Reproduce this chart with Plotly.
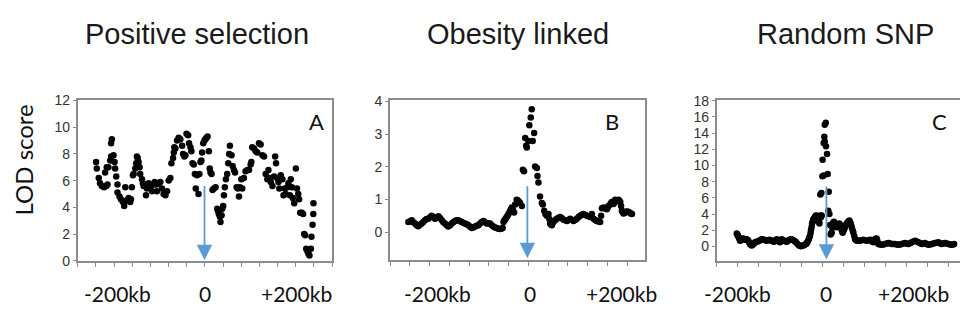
import plotly.graph_objects as go

# ---------------- data (x in marker-tick units, 0 = left edge; y = LOD score) -------------
a_x = [1.01, 1.05, 1.16, 1.23, 1.33, 1.45, 1.57, 1.64, 1.51, 1.60, 1.69, 1.79, 1.84, 1.84, 1.88,
       1.97, 2.03, 2.06, 2.12, 2.19, 2.19, 2.30, 2.38, 2.49, 2.56, 2.67, 2.80, 2.62, 2.98, 2.93,
       2.89, 3.04, 3.08, 3.17, 3.22, 3.26, 3.30, 3.35, 3.41, 3.44, 3.54, 3.59, 3.63, 3.72, 3.76,
       3.81, 3.91, 4.00, 4.09, 4.18, 4.24, 4.33, 4.36, 4.46, 4.55, 4.64, 4.73, 4.83, 4.92, 5.01,
       5.10, 5.16, 5.25, 5.29, 5.32, 5.38, 5.47, 5.56, 5.65, 5.75, 5.80, 5.87, 5.93, 5.99, 6.08,
       6.13, 6.21, 6.26, 6.32, 6.39, 6.45, 6.50, 6.57, 6.65, 6.70, 6.76, 6.81, 6.85, 6.91, 6.98,
       7.03, 7.09, 7.15, 7.22, 7.27, 7.31, 7.37, 7.42, 7.50, 7.59, 7.68, 7.73, 7.77, 7.83, 7.86,
       7.92, 7.96, 8.01, 8.05, 8.10, 8.16, 8.23, 8.29, 8.34, 8.38, 8.47, 8.53, 8.60, 8.66, 8.75,
       8.82, 8.88, 8.93, 9.01, 9.06, 9.15, 9.24, 9.34, 9.43, 9.52, 9.56, 9.61, 9.71, 9.80, 9.89,
       9.98, 10.07, 10.17, 10.26, 10.35, 10.44, 10.50, 10.55, 10.63, 10.72, 10.81, 10.87, 10.92,
       10.99, 11.05, 11.10, 11.18, 11.27, 11.33, 11.40, 11.45, 11.55, 11.60, 11.68, 11.73, 11.79,
       11.84, 11.92, 12.01, 12.07, 12.14, 12.19, 12.25, 12.34, 12.41, 12.47, 12.52, 12.58, 12.65,
       12.71, 12.76, 12.84, 12.87, 12.93, 12.97, 12.98]
a_y = [7.4, 6.9, 6.2, 5.8, 5.6, 5.5, 5.6, 5.7, 6.6, 7.0, 7.0, 7.5, 7.8, 8.8, 9.1,
       7.9, 7.4, 6.9, 6.3, 5.7, 5.1, 4.8, 4.6, 4.4, 4.1, 4.5, 4.7, 5.5, 5.5, 4.6,
       4.4, 6.4, 6.5, 6.9, 7.3, 7.8, 7.7, 7.4, 7.0, 6.5, 6.1, 5.8, 5.6, 5.6, 4.9,
       5.4, 5.8, 5.5, 5.2, 5.7, 5.9, 5.7, 5.2, 5.8, 5.9, 5.4, 5.0, 4.9, 5.2, 6.0,
       6.2, 7.3, 7.7, 8.1, 8.5, 8.4, 9.0, 9.2, 9.1, 8.6, 8.0, 7.8, 7.9, 9.5, 9.4,
       8.8, 8.5, 8.2, 7.3, 7.2, 6.5, 5.4, 6.4, 5.0, 6.5, 7.4, 7.5, 8.1, 8.8, 9.0,
       9.1, 9.2, 9.3, 8.2, 6.9, 6.6, 6.5, 5.3, 5.4, 5.5, 3.9, 3.7, 3.5, 3.3, 2.9,
       3.4, 3.9, 4.1, 4.9, 5.5, 6.1, 6.5, 7.3, 8.0, 8.6, 7.9, 7.1, 6.8, 6.6, 5.5,
       5.4, 4.8, 5.5, 6.1, 5.4, 6.2, 6.7, 6.8, 6.8, 7.2, 7.4, 8.5, 8.4, 8.2, 8.1,
       8.8, 8.7, 7.9, 7.8, 6.5, 6.1, 6.8, 6.2, 5.9, 5.6, 6.3, 7.8, 7.3,
       6.2, 5.9, 5.4, 6.4, 6.1, 4.9, 5.4, 5.0, 5.5, 5.8, 4.9, 6.1, 5.5,
       4.7, 4.3, 6.9, 5.4, 5.0, 4.6, 3.6, 3.6, 3.5, 2.0, 1.9, 0.9, 0.7,
       0.5, 0.4, 0.9, 1.8, 2.7, 3.5, 4.3]

b_x = [0.93, 1.10, 1.27, 1.43, 1.60, 1.77, 1.94, 2.11, 2.28, 2.45, 2.62, 2.78, 2.95, 3.12, 3.29,
       3.46, 3.63, 3.80, 3.97, 4.14, 4.30, 4.47, 4.64, 4.73, 4.89, 5.06, 5.23, 5.40, 5.57, 5.70,
       5.74, 5.82, 5.91, 5.99, 6.08, 6.16, 6.21, 6.28, 6.33, 6.41, 6.50, 6.58, 6.67, 6.72, 6.78,
       6.84, 6.89, 6.92, 7.00, 7.05, 7.12, 7.17, 7.22, 7.29, 7.34, 7.43, 7.46, 7.51, 7.59, 7.68,
       7.73, 7.80, 7.86, 7.93, 8.02, 8.10, 8.19, 8.27, 8.44, 8.61, 8.78, 8.95, 9.11, 9.28, 9.45,
       9.62, 9.79, 9.96, 10.13, 10.21, 10.30, 10.46, 10.63, 10.72, 10.80, 10.97, 11.05, 11.14,
       11.22, 11.31, 11.39, 11.48, 11.56, 11.65, 11.73, 11.81, 11.90, 11.98, 12.12, 12.24,
       1.02, 1.18, 1.35, 1.52, 1.68, 1.85, 2.02, 2.20, 2.36, 2.53, 2.70, 2.87, 3.04, 3.20, 3.37,
       3.55, 3.72, 3.88, 4.05, 4.22, 4.39, 4.56, 4.81, 4.97, 5.15, 5.31, 5.48, 5.63, 5.78, 5.86,
       5.95, 6.04, 6.12, 6.45, 6.54, 8.06, 8.14, 8.35, 8.52, 8.70, 8.86, 9.03, 9.20, 9.37, 9.54,
       9.70, 9.88, 10.05, 10.38, 10.55, 10.68, 10.88, 11.01, 11.18, 11.35, 11.44, 11.52, 11.60,
       11.69, 11.77, 11.86, 11.94, 12.05, 12.18]
b_y = [0.31, 0.36, 0.26, 0.18, 0.26, 0.36, 0.41, 0.50, 0.41, 0.48, 0.36, 0.26, 0.17, 0.26, 0.34,
       0.36, 0.31, 0.26, 0.21, 0.12, 0.17, 0.21, 0.31, 0.34, 0.26, 0.26, 0.17, 0.12, 0.09, 0.12,
       0.31, 0.38, 0.46, 0.55, 0.65, 0.75, 0.70, 0.60, 0.84, 0.99, 0.94, 0.89, 0.80, 1.91, 1.86,
       2.88, 2.64, 2.59, 2.79, 3.27, 3.51, 3.76, 2.79, 3.03, 2.01, 1.96, 1.72, 1.52, 1.09, 0.89,
       0.84, 0.65, 0.55, 0.50, 0.55, 0.26, 0.21, 0.31, 0.41, 0.46, 0.38, 0.34, 0.41, 0.34, 0.41,
       0.50, 0.55, 0.50, 0.46, 0.55, 0.41, 0.34, 0.31, 0.73, 0.75, 0.70, 0.80, 0.84,
       0.92, 0.86, 0.99, 0.94, 0.99, 0.92, 0.65, 0.57, 0.60, 0.63, 0.60, 0.55,
       0.33, 0.30, 0.21, 0.22, 0.31, 0.40, 0.45, 0.46, 0.44, 0.43, 0.30, 0.21, 0.21, 0.30, 0.36,
       0.33, 0.28, 0.24, 0.16, 0.14, 0.19, 0.26, 0.30, 0.27, 0.21, 0.14, 0.10, 0.10, 0.35, 0.42,
       0.50, 0.60, 0.70, 0.97, 0.91, 0.40, 0.23, 0.36, 0.44, 0.42, 0.36, 0.37, 0.38, 0.37, 0.46,
       0.53, 0.52, 0.48, 0.37, 0.32, 0.50, 0.72, 0.75, 0.88, 0.92, 0.96, 0.97, 0.96,
       0.80, 0.61, 0.58, 0.62, 0.62, 0.57]

c_x = [0.95, 1.00, 1.06, 1.11, 1.18, 1.26, 1.34, 1.42, 1.50, 1.58, 1.66, 1.74, 1.82, 1.90, 2.02,
       2.13, 2.24, 2.37, 2.50, 2.61, 2.72, 2.84, 2.92, 3.00, 3.08, 3.19, 3.32, 3.44, 3.55, 3.67,
       3.76, 3.87, 3.98, 4.11, 4.23, 4.30, 4.36, 4.42, 4.47, 4.52, 4.57, 4.61, 4.66, 4.71, 4.77,
       4.82, 4.87, 4.90, 4.98, 4.91, 4.96, 5.01, 5.07, 5.02, 5.07, 5.12, 5.10, 5.12, 5.17, 5.18,
       5.23, 5.26, 5.31, 5.29, 5.34, 5.37, 5.40, 5.45, 5.50, 5.56, 5.61, 5.69, 5.77, 5.81, 5.88,
       5.92, 5.97, 6.03, 6.08, 6.16, 6.24, 6.29, 6.35, 6.41, 6.48, 6.56, 6.64, 6.79, 6.95, 7.11,
       7.27, 7.42, 7.50, 7.58, 7.66, 7.82, 7.98, 8.14, 8.29, 8.45, 8.61, 8.77, 8.93, 9.08, 9.24,
       9.40, 9.56, 9.72, 9.87, 10.03, 10.19, 10.35, 10.51, 10.66, 10.82, 10.98, 11.14, 11.25,
       0.98, 1.03, 1.09, 1.14, 1.22, 1.30, 1.38, 1.46, 1.54, 1.62, 1.70, 1.78, 1.86, 1.96, 2.08,
       2.19, 2.30, 2.43, 2.55, 2.66, 2.78, 2.88, 2.96, 3.04, 3.13, 3.25, 3.38, 3.50, 3.61, 3.72,
       3.82, 3.92, 4.05, 4.17, 4.27, 4.33, 4.39, 4.45, 4.50, 4.55, 4.59, 4.64, 4.69, 4.74, 4.80,
       4.85, 4.94, 5.42, 5.48, 5.53, 5.58, 5.65, 5.73, 5.79, 5.85, 5.90, 5.95, 6.00, 6.06, 6.12,
       6.20, 6.27, 6.32, 6.38, 6.45, 6.52, 6.60, 6.72, 6.87, 7.03, 7.19, 7.35, 7.46, 7.54, 7.62,
       7.74, 7.90, 8.06, 8.22, 8.37, 8.53, 8.69, 8.85, 9.00, 9.16, 9.32, 9.48, 9.64, 9.80, 9.95,
       10.11, 10.27, 10.43, 10.58, 10.74, 10.90, 11.06, 11.20]
c_y = [1.60, 1.37, 1.09, 0.70, 0.90, 0.98, 0.82, 0.90, 0.70, 0.31, 0.12, 0.31, 0.51, 0.59, 0.70,
       0.90, 0.82, 0.70, 0.82, 0.70, 0.59, 0.90, 0.70, 0.51, 0.90, 0.70, 0.59, 0.82, 0.90, 0.70,
       0.51, 0.20, 0.04, 0.12, 0.31, 0.51, 0.90, 1.29, 2.07, 2.85, 3.24, 3.44, 3.63, 3.83, 3.63,
       3.16, 2.85, 3.83, 3.83, 6.41, 6.60, 8.67, 8.75, 10.70, 12.77, 12.97, 13.55, 15.04, 15.27, 12.38,
       11.41, 8.94, 6.76, 4.41, 4.02, 2.66, 1.48, 1.68, 2.85, 3.05, 2.66, 2.38, 2.66, 2.85, 2.46,
       2.07, 1.68, 2.07, 2.46, 2.85, 3.05, 3.20, 2.85, 2.27, 1.68, 0.90, 0.70, 0.70, 0.82, 0.70,
       0.82, 0.51, 0.90, 0.98, 0.31, 0.20, 0.31, 0.43, 0.31, 0.31, 0.20, 0.31, 0.43, 0.31, 0.51,
       0.70, 0.51, 0.31, 0.43, 0.20, 0.31, 0.43, 0.51, 0.31, 0.43, 0.31, 0.20, 0.31,
       1.48, 1.20, 0.85, 0.78, 0.95, 0.90, 0.86, 0.80, 0.50, 0.20, 0.20, 0.42, 0.55, 0.65, 0.80,
       0.86, 0.76, 0.76, 0.76, 0.65, 0.75, 0.80, 0.60, 0.70, 0.80, 0.65, 0.70, 0.86, 0.80, 0.60,
       0.35, 0.10, 0.08, 0.20, 0.41, 0.70, 1.10, 1.70, 2.45, 3.05, 3.35, 3.55, 3.75, 3.70, 3.40,
       3.00, 3.60, 1.60, 2.30, 2.95, 2.85, 2.50, 2.52, 2.75, 2.65, 2.25, 1.85, 1.90, 2.25, 2.65,
       2.95, 3.12, 3.00, 2.55, 1.95, 1.25, 0.80, 0.70, 0.76, 0.76, 0.76, 0.66, 0.70, 0.95, 0.65,
       0.25, 0.25, 0.37, 0.37, 0.31, 0.25, 0.25, 0.37, 0.37, 0.41, 0.60, 0.60, 0.41, 0.37, 0.31,
       0.25, 0.37, 0.47, 0.41, 0.37, 0.37, 0.25, 0.25]

titles = ["Positive selection", "Obesity linked", "Random SNP"]
panel_letters = ["A", "B", "C"]
pos_labels = ["-200kb", "0", "+200kb"]
a_label_pos = [2.2, 7.0, 12.05]
b_label_pos = [2.4, 7.1, 11.7]
c_label_pos = [1.0, 5.2, 9.35]
# arrows: (x, from_y, to_y)
arrow_a = (6.98, 5.7, 0.05)
arrow_b = (6.95, 1.45, -0.8)
arrow_c = (5.2, 7.6, -1.6)
y_label = "LOD score"

# ---------------- figure ----------------
W, H = 960, 321
def px_x(p): return p / W
def px_y(p): return (H - p) / H

AX = "#8c8c8c"
BLUE = "#5b9bd5"
TICKF = dict(family="Liberation Sans, Arial, sans-serif", size=14, color="#333333")
CAL = "Lato, Liberation Sans, sans-serif"

fig = go.Figure()
data = [(a_x, a_y, "x", "y"), (b_x, b_y, "x2", "y2"), (c_x, c_y, "x3", "y3")]
for xs, ys, xa, ya in data:
    fig.add_trace(go.Scatter(x=xs, y=ys, mode="markers", xaxis=xa, yaxis=ya,
                             marker=dict(color="#050505", size=6.5, line=dict(width=0)),
                             showlegend=False, hoverinfo="skip"))

xcommon = dict(showgrid=False, zeroline=False, showline=True, linecolor=AX, linewidth=1.8,
               mirror=True, ticks="outside", ticklen=4, tickcolor=AX, tickwidth=1.2,
               tickmode="linear", tick0=0, dtick=1, showticklabels=False, fixedrange=True)
ycommon = dict(showgrid=False, zeroline=False, showline=True, linecolor=AX, linewidth=1.8,
               ticks="outside", ticklen=3, tickcolor=AX, tickwidth=1.2, tickfont=TICKF,
               fixedrange=True)

layout = dict(
    width=W, height=H, margin=dict(l=0, r=0, t=0, b=0),
    paper_bgcolor="white", plot_bgcolor="white", showlegend=False,
    xaxis=dict(xcommon, domain=[px_x(77.7), px_x(332)], range=[0, 14], anchor="y"),
    yaxis=dict(ycommon, domain=[px_y(266), px_y(97.3)], range=[0, 12], tickvals=[0, 2, 4, 6, 8, 10, 12],
               anchor="x", mirror=True),
    xaxis2=dict(xcommon, domain=[px_x(390), px_x(645)], range=[0, 12.9], anchor="y2"),
    yaxis2=dict(ycommon, domain=[px_y(265), px_y(97.3)], range=[-0.85, 4.03], tickvals=[0, 1, 2, 3, 4],
                anchor="x2", mirror=True),
    xaxis3=dict(xcommon, domain=[px_x(716.7), 1.0], range=[0, (960 - 716.7) / 21.1], anchor="y3"),
    yaxis3=dict(ycommon, domain=[px_y(266), px_y(96.5)], range=[-1.76, 18.12],
                tickvals=list(range(0, 19, 2)), anchor="x3", mirror=False),
)
fig.update_layout(**layout)

ann = []
title_cx = [197, 518, 845]
for t, cx in zip(titles, title_cx):
    ann.append(dict(text=t, x=px_x(cx), y=px_y(27), xref="paper", yref="paper",
                    xanchor="center", yanchor="middle", showarrow=False,
                    font=dict(family="Liberation Sans, Arial, sans-serif", size=29, color="#1a1a1a")))
letter_pos = [316, 611.5, 939.5]
for L, cx in zip(panel_letters, letter_pos):
    ann.append(dict(text=L, x=px_x(cx), y=px_y(119.5), xref="paper", yref="paper",
                    xanchor="center", yanchor="middle", showarrow=False,
                    font=dict(family=CAL, size=22, color="#111")))
for xa, poss in [("x", a_label_pos), ("x2", b_label_pos), ("x3", c_label_pos)]:
    for lab, p in zip(pos_labels, poss):
        ann.append(dict(text=lab, x=p, y=px_y(300), xref=xa, yref="paper",
                        xanchor="center", yanchor="middle", showarrow=False,
                        font=dict(family=CAL, size=21, color="#111")))
ann.append(dict(text=y_label, x=px_x(23), y=px_y(160.5), xref="paper", yref="paper",
                xanchor="center", yanchor="middle", showarrow=False, textangle=-90,
                font=dict(family=CAL, size=24, color="#111")))
for (xa, ya), (ax_, y0, y1) in zip([("x", "y"), ("x2", "y2"), ("x3", "y3")], [arrow_a, arrow_b, arrow_c]):
    ann.append(dict(text="", x=ax_, y=y1, ax=ax_, ay=y0, xref=xa, yref=ya, axref=xa, ayref=ya,
                    showarrow=True, arrowhead=2, arrowsize=1.7, arrowwidth=1.8, arrowcolor=BLUE,
                    standoff=0, startstandoff=0))
fig.update_layout(annotations=ann)

fig.write_html("out.html", config={"displayModeBar": False},
               post_script="document.body.style.margin='0px';")
